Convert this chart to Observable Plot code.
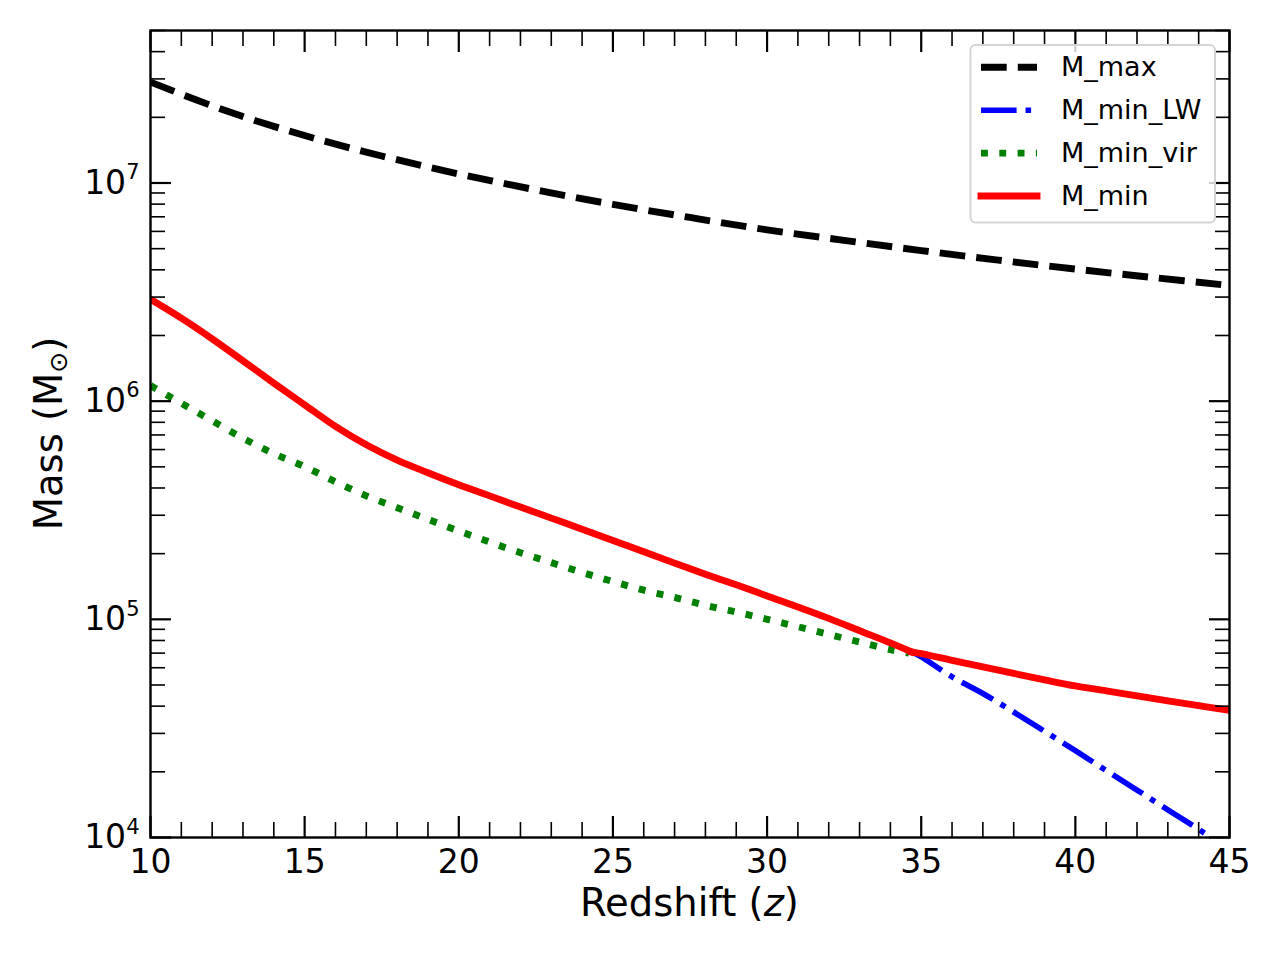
<!DOCTYPE html>
<html>
<head>
<meta charset="utf-8">
<script src="https://cdn.jsdelivr.net/npm/d3@7"></script>
<script src="https://cdn.jsdelivr.net/npm/@observablehq/plot@0.6"></script>
<style>
  html, body { margin: 0; padding: 0; background: #ffffff; }
  #chart svg { display: block; }
</style>
</head>
<body>
<div id="chart"></div>
<script>
// ---- data ----
const seriesNames = ["M_max", "M_min_LW", "M_min_vir", "M_min"];

const zMax = [10, 12.5, 15, 17.5, 20, 22.5, 25, 27.5, 30, 32.5, 35, 37.5, 40, 42.5, 45];
const mMax = [2.9e7, 2.13e7, 1.65e7, 1.33e7, 1.10e7, 9.3e6, 7.98e6, 6.95e6, 6.1e6, 5.46e6, 4.9e6, 4.43e6, 4.03e6, 3.69e6, 3.39e6];

const zLW = [34.68, 35, 36, 37, 38, 39, 40, 41, 42, 43, 44, 45];
const mLW = [7.10e4, 6.73e4, 5.45e4, 4.57e4, 3.76e4, 3.07e4, 2.50e4, 2.03e4, 1.65e4, 1.34e4, 1.09e4, 8.8e3];

const zVir = [10, 11, 12, 13, 14, 15, 16, 17, 18, 19, 20, 21, 22, 23, 24, 25, 26, 27, 28, 29, 30, 31, 32, 33, 34, 34.6];
const mVir = [1.18e6, 9.77e5, 8.13e5, 6.76e5, 5.75e5, 5.01e5, 4.27e5, 3.68e5, 3.25e5, 2.87e5, 2.54e5, 2.26e5, 2.02e5, 1.82e5, 1.64e5, 1.49e5, 1.36e5, 1.26e5, 1.16e5, 1.08e5, 1.0e5, 9.25e4, 8.53e4, 7.87e4, 7.26e4, 7.0e4];

const zMin = [10, 11, 12, 13, 14, 15, 16, 17, 18, 19, 20, 21, 22, 23, 24, 25, 26, 27, 28, 29, 30, 31, 32, 33, 34, 34.68, 35, 36, 37, 38, 39, 40, 41, 42, 43, 44, 45];
const mMin = [2.93e6, 2.40e6, 1.93e6, 1.53e6, 1.21e6, 9.62e5, 7.66e5, 6.31e5, 5.37e5, 4.70e5, 4.14e5, 3.68e5, 3.27e5, 2.91e5, 2.59e5, 2.30e5, 2.04e5, 1.81e5, 1.61e5, 1.44e5, 1.28e5, 1.14e5, 1.01e5, 8.87e4, 7.80e4, 7.10e4, 6.97e4, 6.49e4, 6.05e4, 5.65e4, 5.28e4, 4.95e4, 4.70e4, 4.46e4, 4.23e4, 4.02e4, 3.83e4];
const minKinkZ = 34.68;

const xMajorTicks = [10, 15, 20, 25, 30, 35, 40, 45];
const yMajorTicks = [1e4, 1e5, 1e6, 1e7];

// ---- styles ----
const seriesStyle = {
  "M_max":     {stroke: "#000000", strokeWidth: 6.9, strokeDasharray: "25.7,11.1", strokeLinecap: "butt"},
  "M_min_LW":  {stroke: "#0000ff", strokeWidth: 5.6, strokeDasharray: "35.6,8.9,5.6,8.9", strokeLinecap: "butt"},
  "M_min_vir": {stroke: "#008000", strokeWidth: 6.9, strokeDasharray: "6.9,11.4", strokeLinecap: "butt"},
  "M_min":     {stroke: "#ff0000", strokeWidth: 6.9, strokeDasharray: null, strokeLinecap: "square"}
};

// ---- tables ----
const rowsMax = zMax.map((z, i) => ({z, m: mMax[i]}));
const rowsLW = zLW.map((z, i) => ({z, m: mLW[i]}));
const rowsVir = zVir.map((z, i) => ({z, m: mVir[i]}));
const rowsMin = [];
zMin.forEach((z, i) => {
  if (z <= minKinkZ) rowsMin.push({z, m: mMin[i], seg: 0});
  if (z >= minKinkZ) rowsMin.push({z, m: mMin[i], seg: 1});
});

const xMinorTicks = d3.range(10, 46).filter(v => v % 5 !== 0);
const yMinorTicks = [];
[1e4, 1e5, 1e6, 1e7].forEach(d => { for (let k = 2; k <= 9; k++) { const v = k * d; if (v <= 5e7) yMinorTicks.push(v); } });

function lineMark(rows, name, extra = {}) {
  const s = seriesStyle[name];
  return Plot.line(rows, {
    x: "z", y: "m",
    stroke: s.stroke, strokeWidth: s.strokeWidth,
    strokeDasharray: s.strokeDasharray || undefined,
    strokeLinecap: s.strokeLinecap, strokeLinejoin: "round",
    curve: "catmull-rom", clip: true, ...extra
  });
}

const majorTick = {tickSize: -21, strokeWidth: 2.2, fill: "none", label: null};
const minorTick = {tickSize: -15, strokeWidth: 1.6, fill: "none", label: null};

const svg = Plot.plot({
  width: 1280, height: 960,
  marginLeft: 150, marginRight: 51, marginTop: 30, marginBottom: 123,
  style: {fontFamily: "DejaVu Sans", color: "#000000", background: "#ffffff", overflow: "visible"},
  x: {domain: [10, 45], axis: null},
  y: {type: "log", domain: [1e4, 5e7], axis: null},
  marks: [
    lineMark(rowsMax, "M_max"),
    lineMark(rowsLW, "M_min_LW"),
    lineMark(rowsVir, "M_min_vir"),
    lineMark(rowsMin, "M_min", {z: "seg"}),
    // ticks, inward on all four sides
    Plot.axisX(xMajorTicks, {anchor: "bottom", ...majorTick}),
    Plot.axisX(xMinorTicks, {anchor: "bottom", ...minorTick}),
    Plot.axisX(xMajorTicks, {anchor: "top", ...majorTick}),
    Plot.axisX(xMinorTicks, {anchor: "top", ...minorTick}),
    Plot.axisY(yMajorTicks, {anchor: "left", ...majorTick}),
    Plot.axisY(yMinorTicks, {anchor: "left", ...minorTick}),
    Plot.axisY(yMajorTicks, {anchor: "right", ...majorTick}),
    Plot.axisY(yMinorTicks, {anchor: "right", ...minorTick}),
    // tick labels
    Plot.axisX(xMajorTicks, {anchor: "bottom", tickSize: 0, tickPadding: 12, fontSize: 33, label: null, tickFormat: d => String(d)}),
    Plot.axisY(yMajorTicks, {anchor: "left", tickSize: 0, tickPadding: 11, fontSize: 33, label: null,
      tickFormat: d => String(Math.round(Math.log10(d)))}),
    Plot.frame({stroke: "#000000", strokeWidth: 2.4})
  ]
});

const root = d3.select(svg);

// exponent formatting of y tick labels: 10 with superscript
root.selectAll('g[aria-label="y-axis tick label"] text').each(function () {
  const e = this.textContent;
  const t = d3.select(this);
  t.text(null);
  t.append("tspan").text("10");
  t.append("tspan").attr("dy", -14.3).attr("font-size", 21).text(e);
});

// axis titles
const xl = root.append("text")
  .attr("x", 689.5).attr("y", 916)
  .attr("text-anchor", "middle")
  .attr("font-family", "DejaVu Sans").attr("font-size", 38.5).attr("fill", "#000");
xl.append("tspan").text("Redshift (");
xl.append("tspan").attr("font-style", "italic").text("z");
xl.append("tspan").text(")");

const yl = root.append("text")
  .attr("transform", "translate(62,433.5) rotate(-90)")
  .attr("text-anchor", "middle")
  .attr("font-family", "DejaVu Sans").attr("font-size", 38.5).attr("fill", "#000");
yl.append("tspan").text("Mass (M");
yl.append("tspan").attr("font-size", 25).attr("dy", 5).text("\u2299");
yl.append("tspan").attr("dy", -5).text(")");

// legend
const lg = root.append("g").attr("font-family", "DejaVu Sans").attr("font-size", 27).attr("text-anchor", "start");
lg.append("rect")
  .attr("x", 970.5).attr("y", 45).attr("width", 244.5).attr("height", 177.5).attr("rx", 5)
  .attr("fill", "#ffffff").attr("fill-opacity", 0.8)
  .attr("stroke", "#d4d4d4").attr("stroke-width", 2);
seriesNames.forEach((name, i) => {
  const s = seriesStyle[name];
  const y = 67.3 + i * 42.9;
  const ln = lg.append("line")
    .attr("x1", 981).attr("x2", 1037).attr("y1", y).attr("y2", y)
    .attr("stroke", s.stroke).attr("stroke-width", s.strokeWidth)
    .attr("stroke-linecap", s.strokeLinecap);
  if (s.strokeDasharray) ln.attr("stroke-dasharray", s.strokeDasharray);
  lg.append("text").attr("x", 1061).attr("y", y + 8.6).attr("fill", "#000")
    .attr("text-anchor", "start").text(name);
});

document.getElementById("chart").appendChild(svg);
</script>
</body>
</html>
